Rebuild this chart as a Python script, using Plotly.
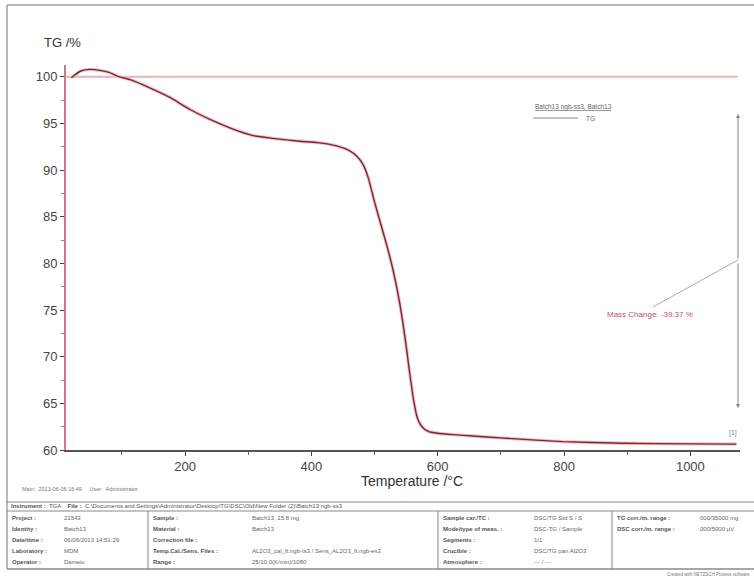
import plotly.graph_objects as go

# ---- data ----
temp_c = [20, 34, 50, 65, 81, 94, 113, 145, 176, 208, 244, 276, 308, 339, 382, 410,
          440, 460, 472, 482, 490, 500, 510, 520, 530, 540, 548, 555, 562, 568, 575,
          585, 600, 625, 656, 699, 798, 893, 1000, 1073]
tg_pct = [99.9, 100.6, 100.8, 100.7, 100.45, 100.05, 99.7, 98.8, 97.8, 96.5, 95.3, 94.4,
          93.7, 93.4, 93.1, 92.95, 92.6, 92.1, 91.5, 90.6, 89.2, 86.6, 84.2, 81.8, 79.1,
          75.7, 72.2, 68.6, 65.3, 63.4, 62.5, 62.0, 61.8, 61.65, 61.5, 61.3, 60.9, 60.72,
          60.66, 60.63]
baseline_pct = 100
x_ticks = [200, 400, 600, 800, 1000]
y_ticks = [60, 65, 70, 75, 80, 85, 90, 95, 100]
mass_change = -39.37

W, H = 754, 577
ML, MR, MT, MB = 66, 14, 65, 127
PW, PH = W - ML - MR, H - MT - MB
FONT = "Liberation Sans, Arial, sans-serif"


def px(x):
    return (x - ML) / PW


def py(y):
    return (H - MB - y) / PH


fig = go.Figure()

# 100 % reference line
fig.add_trace(go.Scatter(x=[11.6, 1075], y=[baseline_pct, baseline_pct], mode="lines",
                         line=dict(color="#e6b3b8", width=2), hoverinfo="skip"))
# halo + curve
fig.add_trace(go.Scatter(x=temp_c, y=tg_pct, mode="lines",
                         line=dict(color="#f0c2c6", width=3.4, shape="spline", smoothing=0.5),
                         hoverinfo="skip"))
fig.add_trace(go.Scatter(x=temp_c, y=tg_pct, mode="lines",
                         line=dict(color="#7a2834", width=1.4, shape="spline", smoothing=0.5),
                         name="TG"))

shapes = []
annotations = []


def line(x0, y0, x1, y1, color="#999", width=1.0):
    shapes.append(dict(type="line", xref="paper", yref="paper",
                       x0=px(x0), y0=py(y0), x1=px(x1), y1=py(y1),
                       line=dict(color=color, width=width), layer="above"))


def text(x, y, s, size=7, color="#555", anchor="left", **kw):
    annotations.append(dict(xref="paper", yref="paper", x=px(x), y=py(y), text=s,
                            showarrow=False, xanchor=anchor, yanchor="middle",
                            font=dict(family=FONT, size=size, color=color), **kw))


# outer frame
line(7, 5, W, 5, "#a0a0a0", 1.5)
line(7, 5, 7, 569, "#a0a0a0", 1.5)

# titles
text(42, 42, "TG /%", size=13, color="#333")
text(412, 481, "Temperature /°C", size=14, color="#333", anchor="center")

# legend
text(533, 107, "<u>Batch13 ngb-ss3, Batch13</u>", size=6.5, color="#666")
line(533, 118, 578, 118, "#888", 1)
text(584, 118, "TG", size=6.5, color="#666")

# mass change arrow
annotations.append(dict(xref="paper", yref="paper", axref="pixel", ayref="pixel",
                        x=px(738), y=py(114), ax=0, ay=146, text="", showarrow=True,
                        arrowhead=2, arrowsize=0.8, arrowwidth=1, arrowcolor="#888"))
annotations.append(dict(xref="paper", yref="paper", axref="pixel", ayref="pixel",
                        x=px(738), y=py(408), ax=0, ay=-146, text="", showarrow=True,
                        arrowhead=2, arrowsize=0.8, arrowwidth=1, arrowcolor="#888"))
line(738, 260, 653, 307, "#aaa", 1)
text(650, 314, f"Mass Change: {mass_change:.2f} %", size=8, color="#c0506a", anchor="center")
text(733, 433, "[1]", size=7, color="#888", anchor="center")

# footer
text(20, 489, "Main:  2013-06-06 16:49     User:  Administrator", size=5.5, color="#777")

TB_TOP, TB_ROW1, TB_BOT = 502, 511, 569
line(7, TB_TOP, W, TB_TOP, "#888", 1.2)
line(7, TB_ROW1, W, TB_ROW1, "#888", 1.2)
line(7, TB_BOT, W, TB_BOT, "#888", 1.5)
line(148, TB_ROW1, 148, TB_BOT, "#888", 1)
line(438, TB_ROW1, 438, TB_BOT, "#888", 1)
line(612, TB_ROW1, 612, TB_BOT, "#888", 1)

text(9, 506.5, "<b>Instrument :</b>  TGA    <b>File :</b>  C:\\Documents and Settings\\Administrator\\Desktop\\TG\\DSC\\Old\\New Folder (2)\\Batch13 ngb-ss3",
     size=6, color="#555")

rows_y = [518, 529, 540, 551, 562]
col1_l = ["Project :", "Identity :", "Date/time :", "Laboratory :", "Operator :"]
col1_v = ["21543", "Batch13", "06/06/2013 14:51:29", "MDM", "Dameio"]
col2_l = ["Sample :", "Material :", "Correction file :", "Temp.Cal./Sens. Files :", "Range :"]
col2_v = ["Batch13, 15.8 mg", "Batch13", "", "AL2O3_cal_ft.ngb-ts3 / Sens_AL2O3_ft.ngb-es3", "25/10.0(K/min)/1080"]
col3_l = ["Sample car./TC :", "Mode/type of meas. :", "Segments :", "Crucible :", "Atmosphere :"]
col3_v = ["DSC/TG Std S / S", "DSC-TG / Sample", "1/1", "DSC/TG pan Al2O3", "--- / ---"]
col4_l = ["TG corr./m. range :", "DSC corr./m. range :"]
col4_v = ["000/35000 mg", "000/5000 µV"]

for i, yy in enumerate(rows_y):
    text(10, yy, f"<b>{col1_l[i]}</b>", size=6, color="#555")
    text(62, yy, col1_v[i], size=6, color="#666")
    text(151, yy, f"<b>{col2_l[i]}</b>", size=6, color="#555")
    text(250, yy, col2_v[i], size=6, color="#666")
    text(441, yy, f"<b>{col3_l[i]}</b>", size=6, color="#555")
    text(532, yy, col3_v[i], size=6, color="#666")
for i in range(2):
    text(615, rows_y[i], f"<b>{col4_l[i]}</b>", size=6, color="#555")
    text(698, rows_y[i], col4_v[i], size=6, color="#666")

text(W - 2, 574, "Created with NETZSCH Proteus software", size=4.5, color="#777", anchor="right")

fig.update_layout(
    width=W, height=H,
    margin=dict(l=ML, r=MR, t=MT, b=MB),
    paper_bgcolor="white", plot_bgcolor="white",
    showlegend=False,
    shapes=shapes, annotations=annotations,
    font=dict(family=FONT, color="#444"),
    xaxis=dict(range=[11.6, 1078.6], tickvals=x_ticks, ticks="outside", ticklen=4,
               tickcolor="#444", showgrid=False, zeroline=False, showline=True,
               linecolor="#555", linewidth=1.5, tickfont=dict(size=13, color="#444"),
               minor=dict(dtick=100, tick0=0, ticks="outside", ticklen=3, tickcolor="#666")),
    yaxis=dict(range=[60, 101.27], tickvals=y_ticks, ticks="outside", ticklen=4,
               tickcolor="#444", showgrid=False, zeroline=False, showline=True,
               linecolor="#cf7c80", linewidth=2, tickfont=dict(size=13, color="#444"),
               minor=dict(dtick=2.5, tick0=60, ticks="outside", ticklen=3, tickcolor="#888")),
)

fig.write_html("out.html")
